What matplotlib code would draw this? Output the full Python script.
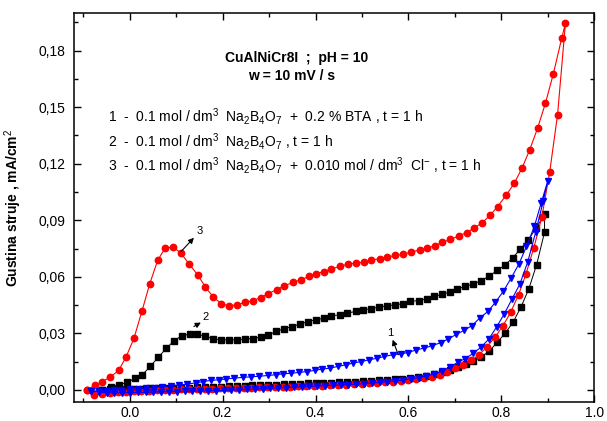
import matplotlib
matplotlib.use("Agg")
import matplotlib.pyplot as plt
from matplotlib.ticker import MultipleLocator, FuncFormatter

# curve 3: 0.1 M Na2B4O7 + 0.010 M Cl-  (red circles)
red_fwd_x = [-0.093, -0.076, -0.059, -0.042, -0.025, -0.009, 0.008, 0.025, 0.042, 0.059,
             0.076, 0.093, 0.110, 0.127, 0.144, 0.161, 0.177, 0.194, 0.211, 0.228,
             0.245, 0.262, 0.279, 0.296, 0.313, 0.330, 0.346, 0.363, 0.380, 0.397,
             0.414, 0.431, 0.448, 0.465, 0.482, 0.499, 0.515, 0.532, 0.549, 0.566,
             0.583, 0.600, 0.617, 0.634, 0.651, 0.668, 0.684, 0.701, 0.718, 0.735,
             0.752, 0.769, 0.786, 0.803, 0.820, 0.837, 0.853, 0.870, 0.887, 0.904,
             0.921, 0.938]
red_fwd_y = [0.0, -0.0025, -0.0020, -0.0016, -0.0013, -0.0010, -0.0008, -0.0006, -0.0004, -0.0003,
             -0.0001, 0.0, 0.0002, 0.0003, 0.0004, 0.0005, 0.0006, 0.0007, 0.0008, 0.0009,
             0.0010, 0.0011, 0.0013, 0.0014, 0.0015, 0.0016, 0.0017, 0.0018, 0.0020, 0.0021,
             0.0022, 0.0024, 0.0026, 0.0028, 0.0030, 0.0032, 0.0034, 0.0037, 0.0040, 0.0043,
             0.0047, 0.0051, 0.0056, 0.0062, 0.0070, 0.0080, 0.0096, 0.0116, 0.0134, 0.0156,
             0.0186, 0.0228, 0.0278, 0.0338, 0.0411, 0.0505, 0.0615, 0.0755, 0.0915, 0.1155,
             0.1460, 0.1947]
red_rev_x = [0.930, 0.912, 0.895, 0.878, 0.861, 0.845, 0.828, 0.811, 0.792, 0.776,
             0.759, 0.742, 0.725, 0.708, 0.690, 0.672, 0.658, 0.640, 0.624, 0.606,
             0.589, 0.572, 0.554, 0.538, 0.520, 0.504, 0.486, 0.469, 0.452, 0.434,
             0.418, 0.401, 0.386, 0.368, 0.351, 0.333, 0.316, 0.298, 0.282, 0.265,
             0.247, 0.230, 0.214, 0.197, 0.180, 0.163, 0.146, 0.128, 0.110, 0.093,
             0.076, 0.060, 0.043, 0.026, 0.009, -0.008, -0.024, -0.042, -0.059, -0.075,
             -0.093]
red_rev_y = [0.1867, 0.1678, 0.1522, 0.1389, 0.1274, 0.1180, 0.1097, 0.1035, 0.0973, 0.0927,
             0.0888, 0.0859, 0.0835, 0.0816, 0.0798, 0.0782, 0.0766, 0.0752, 0.0743, 0.0731,
             0.0720, 0.0713, 0.0705, 0.0697, 0.0687, 0.0678, 0.0673, 0.0667, 0.0655, 0.0642,
             0.0628, 0.0616, 0.0602, 0.0584, 0.0570, 0.0552, 0.0531, 0.0511, 0.0490, 0.0473,
             0.0464, 0.0450, 0.0446, 0.0457, 0.0492, 0.0545, 0.0611, 0.0667, 0.0726, 0.0758,
             0.0752, 0.0687, 0.0563, 0.0416, 0.0274, 0.0174, 0.0103, 0.0067, 0.0044, 0.0023,
             0.0]

# curve 2: 0.1 M Na2B4O7 (black squares)
black_fwd_x = [-0.059, -0.042, -0.025, -0.008, 0.009, 0.026, 0.043, 0.060, 0.077, 0.094,
               0.111, 0.128, 0.145, 0.162, 0.179, 0.196, 0.213, 0.230, 0.247, 0.264,
               0.281, 0.298, 0.315, 0.332, 0.349, 0.366, 0.383, 0.400, 0.417, 0.434,
               0.451, 0.468, 0.485, 0.502, 0.519, 0.536, 0.553, 0.570, 0.587, 0.604,
               0.621, 0.638, 0.655, 0.672, 0.689, 0.706, 0.723, 0.740, 0.757, 0.774,
               0.791, 0.808, 0.825, 0.842, 0.859, 0.876, 0.893]
black_fwd_y = [0.0, 0.0002, 0.0003, 0.0004, 0.0005, 0.0006, 0.0007, 0.0008, 0.0009, 0.0010,
               0.0011, 0.0012, 0.0013, 0.0014, 0.0015, 0.0016, 0.0018, 0.0019, 0.0021, 0.0023,
               0.0025, 0.0027, 0.0028, 0.0030, 0.0031, 0.0032, 0.0034, 0.0035, 0.0037, 0.0038,
               0.0040, 0.0042, 0.0044, 0.0046, 0.0048, 0.0050, 0.0053, 0.0056, 0.0059, 0.0063,
               0.0068, 0.0074, 0.0082, 0.0094, 0.0106, 0.0120, 0.0136, 0.0152, 0.0175, 0.0205,
               0.0252, 0.0300, 0.0358, 0.0438, 0.0535, 0.0665, 0.0837]
black_rev_x = [0.893, 0.875, 0.857, 0.841, 0.824, 0.807, 0.791, 0.774, 0.756, 0.739,
               0.722, 0.705, 0.689, 0.672, 0.656, 0.639, 0.622, 0.604, 0.588, 0.571,
               0.554, 0.536, 0.520, 0.502, 0.486, 0.468, 0.452, 0.434, 0.418, 0.400,
               0.383, 0.366, 0.350, 0.332, 0.315, 0.298, 0.282, 0.265, 0.247, 0.230,
               0.214, 0.197, 0.180, 0.163, 0.145, 0.129, 0.112, 0.095, 0.079, 0.061,
               0.044, 0.027, 0.011, -0.005, -0.023, -0.041, -0.059]
black_rev_y = [0.0933, 0.0859, 0.0793, 0.0747, 0.0700, 0.0660, 0.0634, 0.0604, 0.0579, 0.0561,
               0.0549, 0.0534, 0.0519, 0.0506, 0.0496, 0.0483, 0.0474, 0.0469, 0.0457, 0.0451,
               0.0446, 0.0439, 0.0430, 0.0425, 0.0416, 0.0407, 0.0398, 0.0393, 0.0380, 0.0372,
               0.0361, 0.0349, 0.0336, 0.0324, 0.0310, 0.0290, 0.0280, 0.0272, 0.0270, 0.0265,
               0.0265, 0.0265, 0.0272, 0.0283, 0.0296, 0.0296, 0.0287, 0.0260, 0.0221, 0.0172,
               0.0124, 0.0080, 0.0062, 0.0039, 0.0027, 0.0015, 0.0]

# curve 1: 0.1 M Na2B4O7 + 0.2 % BTA (blue triangles)
blue_fwd_x = [-0.084, -0.067, -0.050, -0.034, -0.017, 0.000, 0.017, 0.034, 0.050, 0.067,
              0.084, 0.101, 0.118, 0.134, 0.151, 0.168, 0.185, 0.202, 0.218, 0.235,
              0.252, 0.269, 0.286, 0.302, 0.319, 0.336, 0.353, 0.370, 0.386, 0.403,
              0.420, 0.437, 0.454, 0.470, 0.487, 0.504, 0.521, 0.538, 0.554, 0.571,
              0.588, 0.605, 0.622, 0.638, 0.655, 0.672, 0.689, 0.706, 0.722, 0.739,
              0.756, 0.773, 0.790, 0.806, 0.823, 0.840, 0.857, 0.874, 0.890, 0.900]
blue_fwd_y = [-0.0005, -0.0012, -0.0015, -0.0016, -0.0016, -0.0015, -0.0014, -0.0013, -0.0012, -0.0011,
              -0.0010, -0.0009, -0.0008, -0.0007, -0.0006, -0.0005, -0.0004, -0.0003, -0.0002, 0.0,
              0.0002, 0.0004, 0.0006, 0.0008, 0.0010, 0.0012, 0.0014, 0.0016, 0.0018, 0.0020,
              0.0022, 0.0024, 0.0026, 0.0028, 0.0030, 0.0033, 0.0036, 0.0039, 0.0043, 0.0047,
              0.0052, 0.0058, 0.0065, 0.0073, 0.0084, 0.0099, 0.0120, 0.0146, 0.0165, 0.0193,
              0.0226, 0.0269, 0.0335, 0.0402, 0.0482, 0.0562, 0.0681, 0.0838, 0.1000, 0.1110]
blue_rev_x = [0.886, 0.871, 0.854, 0.838, 0.821, 0.804, 0.787, 0.771, 0.753, 0.737,
              0.719, 0.703, 0.685, 0.669, 0.651, 0.633, 0.617, 0.599, 0.583, 0.566,
              0.548, 0.533, 0.515, 0.498, 0.481, 0.465, 0.448, 0.431, 0.414, 0.398,
              0.381, 0.364, 0.348, 0.330, 0.314, 0.297, 0.279, 0.261, 0.243, 0.225,
              0.208, 0.192, 0.174, 0.158, 0.142, 0.124, 0.106, 0.088, 0.070, 0.052,
              0.034, 0.017, 0.000, -0.018, -0.034, -0.050, -0.066, -0.084]
blue_rev_y = [0.0994, 0.0867, 0.0761, 0.0669, 0.0593, 0.0522, 0.0464, 0.0416, 0.0380, 0.0341,
              0.0315, 0.0294, 0.0269, 0.0250, 0.0234, 0.0221, 0.0212, 0.0198, 0.0191, 0.0186,
              0.0177, 0.0168, 0.0159, 0.0150, 0.0142, 0.0133, 0.0124, 0.0115, 0.0110, 0.0103,
              0.0097, 0.0092, 0.0088, 0.0085, 0.0080, 0.0076, 0.0072, 0.0069, 0.0066, 0.0062,
              0.0058, 0.0053, 0.0050, 0.0044, 0.0037, 0.0030, 0.0026, 0.0021, 0.0017, 0.0012,
              0.0009, 0.0005, 0.0003, 0.0, -0.0003, -0.0006, -0.0008, -0.0005]

legend_lines = [
    r"1  -  0.1 mol / dm$^3$  Na$_2$B$_4$O$_7$  +  0.2 % BTA , t = 1 h",
    r"2  -  0.1 mol / dm$^3$  Na$_2$B$_4$O$_7$ , t = 1 h",
    r"3  -  0.1 mol / dm$^3$  Na$_2$B$_4$O$_7$  +  0.010 mol / dm$^3$  Cl$^{-}$ , t = 1 h",
]


def set_plotting_style():
    plt.rcParams['font.family'] = ['Liberation Sans', 'DejaVu Sans']
    plt.rcParams['mathtext.fontset'] = 'custom'
    plt.rcParams['mathtext.rm'] = 'Liberation Sans'
    plt.rcParams['mathtext.it'] = 'Liberation Sans'
    plt.rcParams['font.size'] = 10
    plt.rcParams['axes.linewidth'] = 1.1
    plt.rcParams['xtick.direction'] = 'in'
    plt.rcParams['ytick.direction'] = 'in'
    plt.rcParams['xtick.top'] = True
    plt.rcParams['ytick.right'] = True
    plt.rcParams['xtick.major.size'] = 5
    plt.rcParams['ytick.major.size'] = 5
    plt.rcParams['xtick.minor.size'] = 3
    plt.rcParams['ytick.minor.size'] = 3
    plt.rcParams['xtick.major.width'] = 1
    plt.rcParams['ytick.major.width'] = 1
    plt.rcParams['xtick.minor.width'] = 1
    plt.rcParams['ytick.minor.width'] = 1


set_plotting_style()
fig = plt.figure(figsize=(6.07, 4.21), dpi=100)
ax = fig.add_axes([0.122, 0.045, 0.857, 0.924])

ax.plot(black_fwd_x + black_rev_x, black_fwd_y + black_rev_y, color='black', lw=0.7,
        marker='s', ms=4.2, mec='black', mfc='black')
ax.plot(red_fwd_x + red_rev_x, red_fwd_y + red_rev_y, color='red', lw=0.8,
        marker='o', ms=4.6, mec='red', mfc='red')
ax.plot(blue_fwd_x + blue_rev_x, blue_fwd_y + blue_rev_y, color='blue', lw=0.8,
        marker='v', ms=5, mec='blue', mfc='blue')

ax.set_xlim(-0.12, 1.0)
ax.set_ylim(-0.0065, 0.20)
ax.xaxis.set_major_locator(MultipleLocator(0.2))
ax.xaxis.set_minor_locator(MultipleLocator(0.1))
ax.yaxis.set_major_locator(MultipleLocator(0.03))
ax.yaxis.set_minor_locator(MultipleLocator(0.015))
ax.xaxis.set_major_formatter(FuncFormatter(lambda v, p: f"{v:.1f}"))
ax.yaxis.set_major_formatter(FuncFormatter(lambda v, p: f"{v:.2f}".replace('.', ',')))
ax.tick_params(axis='x', which='both', pad=2.5)
ax.tick_params(axis='y', which='both', pad=6)
ax.tick_params(labeltop=False, labelright=False)

ax.set_ylabel("Gustina struje , mA/cm$^2$", fontweight='bold', fontsize=10)
ax.yaxis.set_label_coords(-0.096, 0.5)

# title texts
ax.text(0.29, 0.874, "CuAlNiCr8I  ;  pH = 10", transform=ax.transAxes,
        fontsize=10, fontweight='heavy', va='baseline', ha='left')
ax.text(0.335, 0.828, "w = 10 mV / s", transform=ax.transAxes,
        fontsize=10, fontweight='bold', va='baseline', ha='left')
for txt, yy in zip(legend_lines, [0.720, 0.656, 0.596]):
    ax.text(0.065, yy, txt, transform=ax.transAxes, fontsize=10,
            va='baseline', ha='left')

# curve labels with arrows
arrows = [((0.578, 0.0186), (0.566, 0.0266), (0.561, 0.0303), '1'),
          ((0.138, 0.0336), (0.153, 0.0357), (0.163, 0.0388), '2'),
          ((0.110, 0.0733), (0.138, 0.0807), (0.151, 0.0844), '3')]
for tail, head, lab, s in arrows:
    ax.annotate('', xy=head, xytext=tail,
                arrowprops=dict(arrowstyle='-|>', color='black', lw=0.8,
                                mutation_scale=8, shrinkA=0, shrinkB=0))
    ax.text(lab[0], lab[1], s, fontsize=8, ha='center', va='center')

plt.savefig('out.png', dpi=100)
